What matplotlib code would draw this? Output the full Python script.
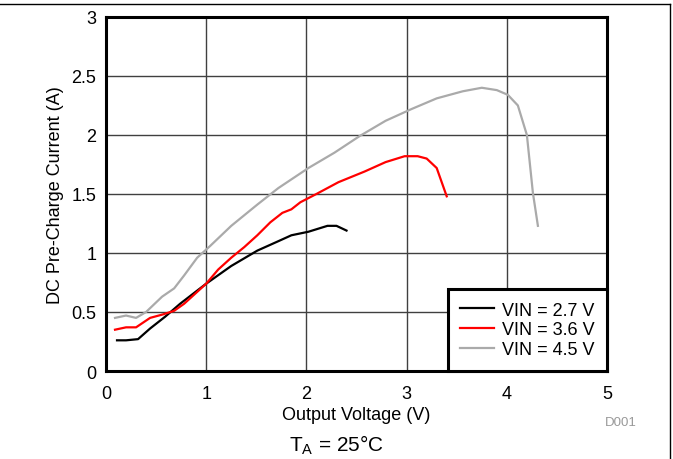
import numpy as np
import matplotlib
matplotlib.use("Agg")
from matplotlib import pyplot as plt
from matplotlib.lines import Line2D

plt.rcParams['font.family'] = ['Liberation Sans', 'DejaVu Sans']
plt.rcParams['mathtext.fontset'] = 'custom'
plt.rcParams['mathtext.rm'] = 'Liberation Sans'

# VIN = 2.7 V
v27 = [0.11, 0.20, 0.32, 0.44, 0.59, 0.74, 1.00, 1.25, 1.51, 1.72, 1.85, 2.02, 2.21, 2.30, 2.40]
i27 = [0.26, 0.26, 0.27, 0.36, 0.46, 0.57, 0.74, 0.89, 1.02, 1.10, 1.15, 1.18, 1.23, 1.23, 1.19]

# VIN = 3.6 V
v36 = [0.09, 0.20, 0.30, 0.44, 0.57, 0.68, 0.78, 1.00, 1.12, 1.25, 1.38, 1.51, 1.64, 1.76, 1.85,
       1.94, 2.10, 2.32, 2.58, 2.79, 2.98, 3.11, 3.20, 3.30, 3.40]
i36 = [0.35, 0.37, 0.37, 0.45, 0.48, 0.51, 0.57, 0.74, 0.86, 0.96, 1.05, 1.15, 1.26, 1.34, 1.37,
       1.43, 1.50, 1.60, 1.69, 1.77, 1.82, 1.82, 1.80, 1.72, 1.48]

# VIN = 4.5 V
v45 = [0.09, 0.20, 0.30, 0.40, 0.56, 0.68, 0.78, 0.91, 1.04, 1.25, 1.51, 1.72, 2.02, 2.28, 2.53,
       2.79, 3.05, 3.30, 3.56, 3.75, 3.90, 4.01, 4.11, 4.20, 4.26, 4.31]
i45 = [0.45, 0.47, 0.45, 0.50, 0.63, 0.70, 0.81, 0.96, 1.06, 1.23, 1.41, 1.55, 1.72, 1.85, 1.99,
       2.12, 2.22, 2.31, 2.37, 2.40, 2.38, 2.34, 2.25, 2.00, 1.51, 1.23]

labels = ['VIN = 2.7 V', 'VIN = 3.6 V', 'VIN = 4.5 V']
colors = ['#000000', '#ff0000', '#aaaaaa']

fig = plt.figure(figsize=(6.73, 4.60), dpi=100)
ax = fig.add_axes([0.1575, 0.1913, 0.7445, 0.7697])

ax.plot(v27, i27, color=colors[0], lw=1.6, label=labels[0])
ax.plot(v36, i36, color=colors[1], lw=1.6, label=labels[1])
ax.plot(v45, i45, color=colors[2], lw=1.6, label=labels[2])

ax.set_xlim(0, 5)
ax.set_ylim(0, 3)
ax.set_xticks(np.arange(0, 6, 1))
ax.set_xticklabels(['0', '1', '2', '3', '4', '5'])
ax.set_yticks(np.arange(0, 3.01, 0.5))
ax.set_yticklabels(['0', '0.5', '1', '1.5', '2', '2.5', '3'])
ax.grid(True, color='#404040', lw=1.0)
ax.set_axisbelow(True)
ax.tick_params(length=0, labelsize=13)
ax.tick_params(axis='x', pad=10)
ax.tick_params(axis='y', pad=7)
for s in ax.spines.values():
    s.set_linewidth(2.2)
    s.set_color('black')

ax.set_xlabel('Output Voltage (V)', fontsize=13, labelpad=3)
ax.set_ylabel('DC Pre-Charge Current (A)', fontsize=13, labelpad=5)

leg = ax.legend(loc='lower right', fontsize=13, frameon=True, fancybox=False,
                borderaxespad=0, handlelength=1.85, labelspacing=0.16,
                borderpad=0.7, handletextpad=0.45)
leg.get_frame().set_edgecolor('black')
leg.get_frame().set_linewidth(2.2)
leg.get_frame().set_alpha(1)

fig.text(0.922, 0.08, 'D001', color='#999999', fontsize=9.5, ha='center', va='center')
fig.text(0.5, 0.032, r'T$_\mathrm{A}$ = 25°C', fontsize=15, ha='center', va='center')

fig.add_artist(Line2D([0, 0.996], [0.99, 0.99], color='black', lw=1.0, transform=fig.transFigure))
fig.add_artist(Line2D([0.996, 0.996], [0.99, 0], color='black', lw=1.0, transform=fig.transFigure))

fig.savefig('out.png', dpi=100)
